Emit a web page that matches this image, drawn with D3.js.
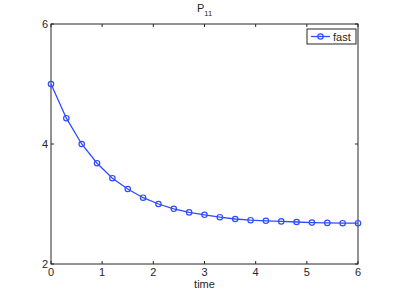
<!DOCTYPE html>
<html><head><meta charset="utf-8">
<script src="https://cdn.jsdelivr.net/npm/d3@7"></script>
<style>body{margin:0;background:#fff}svg{display:block}text{font-family:"Liberation Sans",Arial,sans-serif;fill:#262626}</style>
</head><body>
<svg id="c" width="396" height="297"></svg>
<script>
const times = [0,0.3,0.6,0.9,1.2,1.5,1.8,2.1,2.4,2.7,3.0,3.3,3.6,3.9,4.2,4.5,4.8,5.1,5.4,5.7,6.0];
const fast = [5.0,4.43,4.0,3.68,3.43,3.25,3.105,3.0,2.92,2.86,2.82,2.78,2.75,2.73,2.72,2.71,2.70,2.69,2.685,2.68,2.68];
const xTicks = [0,1,2,3,4,5,6];
const yTicks = [2,4,6];
const seriesName = "fast";

const svg = d3.select("#c");
const L=51,R=358,T=24,B=264;
const x = d3.scaleLinear().domain([0,6]).range([L,R]);
const y = d3.scaleLinear().domain([2,6]).range([B,T]);
const blue = "#2f4cff";

// box
svg.append("rect").attr("x",L).attr("y",T).attr("width",R-L).attr("height",B-T)
  .attr("fill","#fff").attr("stroke","#262626").attr("stroke-width",1);

// ticks
const g = svg.append("g");
xTicks.forEach(t=>{
  g.append("line").attr("x1",x(t)).attr("x2",x(t)).attr("y1",B).attr("y2",B-3).attr("stroke","#262626");
  g.append("line").attr("x1",x(t)).attr("x2",x(t)).attr("y1",T).attr("y2",T+3).attr("stroke","#262626");
  g.append("text").attr("x",x(t)).attr("y",B+12).attr("text-anchor","middle").attr("font-size",11).text(t);
});
yTicks.forEach(t=>{
  g.append("line").attr("x1",L).attr("x2",L+3).attr("y1",y(t)).attr("y2",y(t)).attr("stroke","#262626");
  g.append("line").attr("x1",R).attr("x2",R-3).attr("y1",y(t)).attr("y2",y(t)).attr("stroke","#262626");
  g.append("text").attr("x",L-3).attr("y",y(t)+4).attr("text-anchor","end").attr("font-size",11).text(t);
});
svg.append("text").attr("x",(L+R)/2).attr("y",B+24).attr("text-anchor","middle").attr("font-size",11).text("time");

// title
const tt = svg.append("text").attr("x",(L+R)/2).attr("y",12).attr("text-anchor","middle").attr("font-size",11);
tt.append("tspan").text("P");
tt.append("tspan").attr("font-size",7.5).attr("dy",4).text("11");

// line
const pts = times.map((t,i)=>[t,fast[i]]);
svg.append("path").datum(pts).attr("fill","none").attr("stroke",blue).attr("stroke-width",1.3)
  .attr("d",d3.line().x(d=>x(d[0])).y(d=>y(d[1])));
svg.selectAll("circle.m").data(pts).join("circle").attr("class","m")
  .attr("cx",d=>x(d[0])).attr("cy",d=>y(d[1])).attr("r",2.7)
  .attr("fill","none").attr("stroke",blue).attr("stroke-width",1.2);

// legend
svg.append("rect").attr("x",307).attr("y",29).attr("width",49).attr("height",15)
  .attr("fill","#fff").attr("stroke","#262626").attr("stroke-width",1);
svg.append("line").attr("x1",311).attr("x2",330).attr("y1",36.5).attr("y2",36.5).attr("stroke",blue).attr("stroke-width",1.3);
svg.append("circle").attr("cx",320.5).attr("cy",36.5).attr("r",2.7).attr("fill","none").attr("stroke",blue).attr("stroke-width",1.2);
svg.append("text").attr("x",333).attr("y",40.5).attr("font-size",11).text(seriesName);
</script>
</body></html>
